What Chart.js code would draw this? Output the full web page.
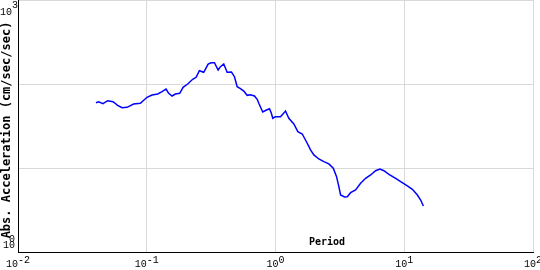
<!DOCTYPE html>
<html>
<head>
<meta charset="utf-8">
<script src="https://cdn.jsdelivr.net/npm/chart.js@4.4.1/dist/chart.umd.min.js"></script>
<style>
	html, body { margin: 0; padding: 0; background: #fff; }
	canvas { display: block; }
</style>
</head>
<body>
<canvas id="spectrumChart" width="540" height="270"></canvas>
<script>
	// period (sec)
	const periods = [
		0.0403, 0.0423, 0.0457, 0.0497, 0.0547, 0.0594, 0.0643, 0.0703, 0.0791, 0.0892,
		0.1005, 0.1099, 0.1216, 0.1315, 0.1413, 0.1480, 0.1573, 0.1669, 0.1803, 0.1916,
		0.2080, 0.2275, 0.2417, 0.2564, 0.2770, 0.2997, 0.3162, 0.3356, 0.3584, 0.3735,
		0.3963, 0.4211, 0.4549, 0.4800, 0.5038, 0.5343, 0.5668, 0.6025, 0.6391, 0.6866,
		0.7206, 0.7415, 0.7965, 0.8511, 0.8982, 0.9259, 0.9528, 1.000, 1.094, 1.196,
		1.269, 1.388, 1.491, 1.613, 1.764, 1.872, 1.985, 2.171, 2.375, 2.597,
		2.810, 2.980, 3.106, 3.202, 3.440, 3.610, 3.830, 4.189, 4.581, 5.010,
		5.479, 5.993, 6.471, 6.953, 7.603, 8.573, 9.376, 10.57, 11.56, 12.65,
		13.41, 14.08
	];

	// abs. acceleration (cm/sec/sec)
	const accel = [
		59.9, 61.5, 58.3, 63.3, 61.5, 55.7, 52.2, 52.8, 57.8, 58.9,
		69.5, 74.0, 76.0, 81.0, 87.2, 77.5, 72.0, 76.0, 77.5, 91.4,
		100, 113.7, 120.2, 143.9, 137.8, 172.9, 179.3, 179.3, 146.8, 160.8,
		172.9, 137.8, 139.0, 122.2, 92.9, 87.9, 82.5, 73.3, 74.6, 72.0,
		65.7, 58.9, 46.4, 49.0, 50.8, 45.5, 39.1, 40.8, 40.8, 47.7,
		39.1, 33.4, 27.1, 25.4, 19.7, 16.4, 14.3, 12.8, 11.9, 11.2,
		9.92, 7.88, 5.99, 4.77, 4.52, 4.55, 5.08, 5.47, 6.57, 7.54,
		8.26, 9.29, 9.73, 9.29, 8.41, 7.54, 6.87, 6.11, 5.58, 4.77,
		4.16, 3.53
	];

	// decade ticks and their exponents
	const xTicks = [0.01, 0.1, 1, 10, 100];
	const xTickExp = ['-2', '-1', '0', '1', '2'];
	const yTicks = [1, 10, 100, 1000];
	const yTickExp = ['0', '', '', '3'];

	const xTitle = 'Period';
	const yTitle = 'Abs. Acceleration (cm/sec/sec)';

	function drawPower(ctx, exp, left, base, rise, expShift) {
		const wb = ctx.measureText('10').width;
		ctx.textAlign = 'left';
		ctx.fillText('10', left, base);
		ctx.fillText(exp, left + wb + expShift, base - rise);
	}

	// tick labels with raised exponents + axis titles
	const axisText = {
		id: 'axisText',
		afterDraw(chart) {
			const ctx = chart.ctx;
			const area = chart.chartArea;
			const xs = chart.scales.x;
			const ys = chart.scales.y;

			ctx.save();
			ctx.fillStyle = '#000';
			ctx.textBaseline = 'alphabetic';
			ctx.font = '10px "Liberation Mono", monospace';

			xTicks.forEach(function (v, i) {
				const w = ctx.measureText('10' + xTickExp[i]).width;
				drawPower(ctx, xTickExp[i], xs.getPixelForValue(v) - w / 2, area.bottom + 15, 4, 0);
			});

			yTicks.forEach(function (v, i) {
				if (!yTickExp[i]) return;
				const py = ys.getPixelForValue(v);
				if (py < area.top + 10) {
					drawPower(ctx, yTickExp[i], 0, py + 15, 7, 0);
				} else {
					// bottom label: exponent squeezed over the "0", as in the source
					drawPower(ctx, yTickExp[i], 3, py - 4, 6, -6);
				}
			});

			ctx.font = 'bold 10px "DejaVu Sans Mono", monospace';
			ctx.textAlign = 'center';
			ctx.textBaseline = 'middle';
			ctx.fillText(xTitle, area.left + (area.right - area.left) * 0.6, area.bottom - 10);

			ctx.translate(7, (area.top + area.bottom) / 2 + 4);
			ctx.rotate(-Math.PI / 2);
			ctx.font = 'bold 12px "DejaVu Sans Mono", monospace';
			ctx.fillText(yTitle, 0, 0);
			ctx.restore();
		}
	};

	const points = periods.map(function (p, i) { return { x: p, y: accel[i] }; });

	new Chart(document.getElementById('spectrumChart'), {
		type: 'line',
		data: {
			datasets: [{
				data: points,
				borderColor: '#0000ff',
				borderWidth: 1.5,
				pointRadius: 0,
				tension: 0,
				fill: false
			}]
		},
		options: {
			responsive: false,
			animation: false,
			devicePixelRatio: 1,
			layout: { padding: { left: 0, top: 0, right: 7, bottom: 0 } },
			plugins: {
				legend: { display: false },
				tooltip: { enabled: false }
			},
			scales: {
				x: {
					type: 'logarithmic',
					min: 0.01,
					max: 100,
					afterBuildTicks: function (scale) {
						scale.ticks = xTicks.map(function (v) { return { value: v }; });
					},
					afterFit: function (scale) {
						scale.height = 18;
						scale.paddingLeft = 0;
						scale.paddingRight = 0;
					},
					ticks: { display: false },
					grid: { color: '#d9d9d9', lineWidth: 1, drawTicks: false },
					border: { display: true, color: '#000', width: 1 }
				},
				y: {
					type: 'logarithmic',
					min: 1,
					max: 1000,
					afterBuildTicks: function (scale) {
						scale.ticks = yTicks.map(function (v) { return { value: v }; });
					},
					afterFit: function (scale) {
						scale.width = 18;
						scale.paddingTop = 0;
						scale.paddingBottom = 0;
					},
					ticks: { display: false },
					grid: { color: '#d9d9d9', lineWidth: 1, drawTicks: false },
					border: { display: true, color: '#000', width: 1 }
				}
			}
		},
		plugins: [axisText]
	});
</script>
</body>
</html>
